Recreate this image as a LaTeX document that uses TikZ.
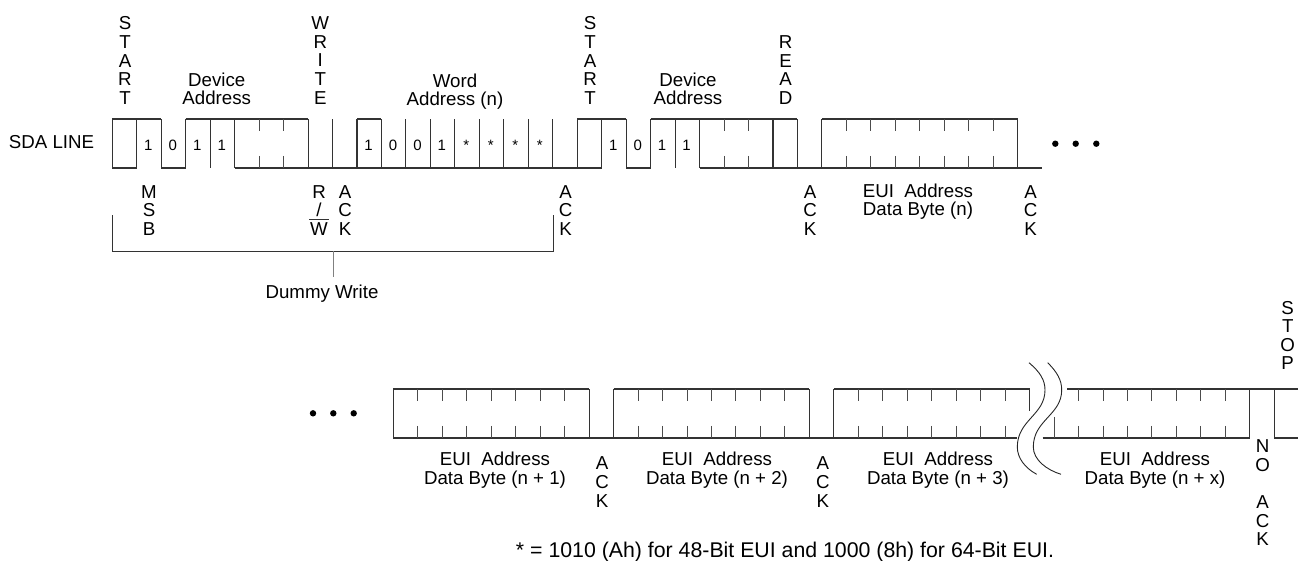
\documentclass[tikz,border=0pt]{standalone}
\usepackage{fontspec}
\setmainfont{Liberation Sans}
\tikzstyle{every node}=[inner sep=0, align=center]
\tikzstyle{stacked}=[font=\fontsize{18.7}{18.6}\selectfont]
\tikzstyle{upperlabel}=[font=\fontsize{18.7}{17.7}\selectfont]
\tikzstyle{lowerlabel}=[font=\fontsize{18.7}{19}\selectfont]
\tikzstyle{notelabel}=[font=\fontsize{21.3}{21.3}\selectfont]
\tikzstyle{bitlabel}=[font=\fontsize{15}{15}\selectfont, anchor=base]
\tikzstyle{wave}=[line width=1.1pt, black!80]
\tikzstyle{wavetick}=[line width=0.8pt, black!70]
\tikzstyle{bracket}=[line width=0.9pt, black!80]
\tikzstyle{stem}=[line width=1pt, black!50]
\tikzstyle{breakline}=[line width=0.9pt, black!85]

\begin{document}
\begin{tikzpicture}[x=1pt, y=-1pt]
\useasboundingbox (0,0) rectangle (1298,560);

\begin{scope}[shift={(112.3,119)}, x=24.47pt, y=-49pt]
% Top row, high
    \draw[wave] (0,0) -- (2,0);
    \draw[wave] (3,0) -- (8,0);
    \draw[wave] (10,0) -- (11,0);
    \draw[wave] (19,0) -- (21,0);
    \draw[wave] (22,0) -- (28,0);
    \draw[wave] (29,0) -- (37,0);
% Top row, low
    \draw[wave] (0,1) -- (1,1);
    \draw[wave] (2,1) -- (3,1);
    \draw[wave] (5,1) -- (20,1);
    \draw[wave] (21,1) -- (22,1);
    \draw[wave] (24,1) -- (38,1);
% Top row, edges
    \draw[wave] (0,0) -- (0,1);
    \draw[wave] (1,0) -- (1,1);
    \draw[wave] (2,0) -- (2,1);
    \draw[wave] (3,0) -- (3,1);
    \draw[wave] (4,0) -- (4,1);
    \draw[wave] (5,0) -- (5,1);
    \draw[wave] (8,0) -- (8,1);
    \draw[wave] (9,0) -- (9,1);
    \draw[wave] (10,0) -- (10,1);
    \draw[wave] (11,0) -- (11,1);
    \draw[wave] (12,0) -- (12,1);
    \draw[wave] (13,0) -- (13,1);
    \draw[wave] (14,0) -- (14,1);
    \draw[wave] (15,0) -- (15,1);
    \draw[wave] (16,0) -- (16,1);
    \draw[wave] (17,0) -- (17,1);
    \draw[wave] (18,0) -- (18,1);
    \draw[wave] (19,0) -- (19,1);
    \draw[wave] (20,0) -- (20,1);
    \draw[wave] (21,0) -- (21,1);
    \draw[wave] (22,0) -- (22,1);
    \draw[wave] (23,0) -- (23,1);
    \draw[wave] (24,0) -- (24,1);
    \draw[wave] (27,0) -- (27,1);
    \draw[wave] (28,0) -- (28,1);
    \draw[wave] (29,0) -- (29,1);
    \draw[wave] (37,0) -- (37,1);
% Top row, ticks
    \draw[wavetick] (6,0) -- (6,.25) (6,.75) -- (6,1);
    \draw[wavetick] (7,0) -- (7,.25) (7,.75) -- (7,1);
    \draw[wavetick] (25,0) -- (25,.25) (25,.75) -- (25,1);
    \draw[wavetick] (26,0) -- (26,.25) (26,.75) -- (26,1);
    \draw[wavetick] (30,0) -- (30,.25) (30,.75) -- (30,1);
    \draw[wavetick] (31,0) -- (31,.25) (31,.75) -- (31,1);
    \draw[wavetick] (32,0) -- (32,.25) (32,.75) -- (32,1);
    \draw[wavetick] (33,0) -- (33,.25) (33,.75) -- (33,1);
    \draw[wavetick] (34,0) -- (34,.25) (34,.75) -- (34,1);
    \draw[wavetick] (35,0) -- (35,.25) (35,.75) -- (35,1);
    \draw[wavetick] (36,0) -- (36,.25) (36,.75) -- (36,1);
% Bits
    \node[bitlabel] (bita) at (1.47,.64) {1};
    \node[bitlabel] (bitb) at (2.47,.64) {0};
    \node[bitlabel] (bitc) at (3.47,.64) {1};
    \node[bitlabel] (bitd) at (4.47,.64) {1};
    \node[bitlabel] (worda) at (10.47,.64) {1};
    \node[bitlabel] (wordb) at (11.47,.64) {0};
    \node[bitlabel] (wordc) at (12.47,.64) {0};
    \node[bitlabel] (wordd) at (13.47,.64) {1};
    \node[bitlabel] (worde) at (14.47,.64) {*};
    \node[bitlabel] (wordf) at (15.47,.64) {*};
    \node[bitlabel] (wordg) at (16.47,.64) {*};
    \node[bitlabel] (wordh) at (17.47,.64) {*};
    \node[bitlabel] (bite) at (20.47,.64) {1};
    \node[bitlabel] (bitf) at (21.47,.64) {0};
    \node[bitlabel] (bitg) at (22.47,.64) {1};
    \node[bitlabel] (bith) at (23.47,.64) {1};
\end{scope}

\begin{scope}[shift={(393.3,389)}, x=24.47pt, y=-49pt]
% Bottom row, high
    \draw[wave] (0,0) -- (8,0);
    \draw[wave] (9,0) -- (17,0);
    \draw[wave] (18,0) -- (26,0);
    \draw[wave] (27.54,0) -- (36.97,0);
% Bottom row, low
    \draw[wave] (0,1) -- (25.47,1);
    \draw[wave] (26.54,1) -- (35,1);
    \draw[wave] (36,1) -- (36.97,1);
% Bottom row, edges
    \draw[wave] (0,0) -- (0,1);
    \draw[wave] (8,0) -- (8,1);
    \draw[wave] (9,0) -- (9,1);
    \draw[wave] (17,0) -- (17,1);
    \draw[wave] (18,0) -- (18,1);
    \draw[wave] (26,0) -- (26,.45);
    \draw[wavetick] (27,.57) -- (27,1);
    \draw[wave] (35,0) -- (35,1);
    \draw[wave] (36,0) -- (36,1);
% Bottom row, ticks
    \draw[wavetick] (1,0) -- (1,.25) (1,.75) -- (1,1);
    \draw[wavetick] (2,0) -- (2,.25) (2,.75) -- (2,1);
    \draw[wavetick] (3,0) -- (3,.25) (3,.75) -- (3,1);
    \draw[wavetick] (4,0) -- (4,.25) (4,.75) -- (4,1);
    \draw[wavetick] (5,0) -- (5,.25) (5,.75) -- (5,1);
    \draw[wavetick] (6,0) -- (6,.25) (6,.75) -- (6,1);
    \draw[wavetick] (7,0) -- (7,.25) (7,.75) -- (7,1);
    \draw[wavetick] (10,0) -- (10,.25) (10,.75) -- (10,1);
    \draw[wavetick] (11,0) -- (11,.25) (11,.75) -- (11,1);
    \draw[wavetick] (12,0) -- (12,.25) (12,.75) -- (12,1);
    \draw[wavetick] (13,0) -- (13,.25) (13,.75) -- (13,1);
    \draw[wavetick] (14,0) -- (14,.25) (14,.75) -- (14,1);
    \draw[wavetick] (15,0) -- (15,.25) (15,.75) -- (15,1);
    \draw[wavetick] (16,0) -- (16,.25) (16,.75) -- (16,1);
    \draw[wavetick] (19,0) -- (19,.25) (19,.75) -- (19,1);
    \draw[wavetick] (20,0) -- (20,.25) (20,.75) -- (20,1);
    \draw[wavetick] (21,0) -- (21,.25) (21,.75) -- (21,1);
    \draw[wavetick] (22,0) -- (22,.25) (22,.75) -- (22,1);
    \draw[wavetick] (23,0) -- (23,.25) (23,.75) -- (23,1);
    \draw[wavetick] (24,0) -- (24,.25) (24,.75) -- (24,1);
    \draw[wavetick] (25,0) -- (25,.25) (25,.75) -- (25,1);
    \draw[wavetick] (28,0) -- (28,.25) (28,.75) -- (28,1);
    \draw[wavetick] (29,0) -- (29,.25) (29,.75) -- (29,1);
    \draw[wavetick] (30,0) -- (30,.25) (30,.75) -- (30,1);
    \draw[wavetick] (31,0) -- (31,.25) (31,.75) -- (31,1);
    \draw[wavetick] (32,0) -- (32,.25) (32,.75) -- (32,1);
    \draw[wavetick] (33,0) -- (33,.25) (33,.75) -- (33,1);
    \draw[wavetick] (34,0) -- (34,.25) (34,.75) -- (34,1);
\end{scope}

% Break in the bottom row
    \draw[breakline] (1029,362.7) .. controls (1040,372) and (1045,380) .. (1045,390)
        .. controls (1045,415) and (1017.3,420) .. (1017.3,447)
        .. controls (1017.3,458) and (1025,468) .. (1036.7,474.3);
    \draw[breakline] (1047.7,362.7) .. controls (1057,372) and (1061.7,380) .. (1061.7,390)
        .. controls (1061.7,415) and (1033.3,420) .. (1033.3,447)
        .. controls (1033.3,460) and (1047,470) .. (1061,474.3);

% Dummy write bracket
    \draw[bracket] (112.3,215) -- (112.3,251) -- (553.3,251) -- (553.3,215);
    \draw[stem] (333,251) -- (333,277);
    \draw[bracket] (309,219.3) -- (329,219.3);

% Dots
    \fill (1055.3,143.7) circle (3.2pt);
    \fill (1075.7,143.7) circle (3.2pt);
    \fill (1096.3,143.7) circle (3.2pt);
    \fill (313,413.3) circle (3.2pt);
    \fill (333.3,413.3) circle (3.2pt);
    \fill (353.7,413.3) circle (3.2pt);

% Labels above the top row
    \node[upperlabel] (sda) at (51.5,142) {SDA LINE};
    \node[stacked] (starta) at (125,60.5) {S\\T\\A\\R\\T};
    \node[upperlabel] (devicea) at (216.7,88.8) {Device\\Address};
    \node[stacked] (write) at (320.3,60.5) {W\\R\\I\\T\\E};
    \node[upperlabel] (wordaddr) at (455,91.5) {Word\\Address (n)};
    \node[stacked] (startb) at (590,60.5) {S\\T\\A\\R\\T};
    \node[upperlabel] (deviceb) at (688,88.8) {Device\\Address};
    \node[stacked] (read) at (785.7,70) {R\\E\\A\\D};
% Labels below the top row
    \node[stacked] (msb) at (149,210.5) {M\\S\\B};
    \node[stacked] (rw) at (319,210.5) {R\\/\\W};
    \node[stacked] (acka) at (345,210.5) {A\\C\\K};
    \node[stacked] (ackb) at (565.7,210.5) {A\\C\\K};
    \node[stacked] (ackc) at (810,210.5) {A\\C\\K};
    \node[upperlabel] (bytea) at (918,202) {EUI~~Address\\Data Byte (n)};
    \node[stacked] (ackd) at (1030.7,210.5) {A\\C\\K};
    \node[upperlabel] (dummy) at (322,294) {Dummy Write};
% Labels of the bottom row
    \node[stacked] (stop) at (1287.7,335.5) {S\\T\\O\\P};
    \node[lowerlabel] (byteb) at (495,470) {EUI~~Address\\Data Byte (n + 1)};
    \node[stacked] (acke) at (602,482) {A\\C\\K};
    \node[lowerlabel] (bytec) at (717,470) {EUI~~Address\\Data Byte (n + 2)};
    \node[stacked] (ackf) at (822.8,482) {A\\C\\K};
    \node[lowerlabel] (byted) at (938,470) {EUI~~Address\\Data Byte (n + 3)};
    \node[lowerlabel] (bytee) at (1155,470) {EUI~~Address\\Data Byte (n + x)};
    \node[stacked] (noack) at (1262.7,493) {N\\O\\[18.6pt]A\\C\\K};
    \node[notelabel] (note) at (785,552) {* = 1010 (Ah) for 48-Bit EUI and 1000 (8h) for 64-Bit EUI.};

\end{tikzpicture}
\end{document}
